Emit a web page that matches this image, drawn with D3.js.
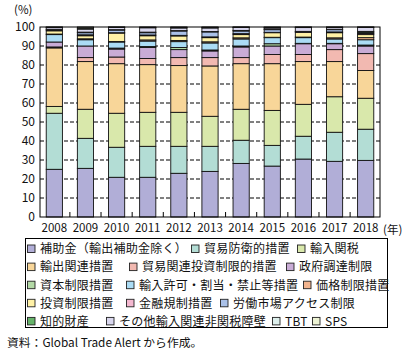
<!DOCTYPE html>
<html>
<head>
<meta charset="utf-8">
<script src="https://cdn.jsdelivr.net/npm/d3@7"></script>
<style>
  body { margin: 0; background: #fff; }
  svg { display: block; font-family: "Noto Sans CJK JP", "Noto Sans", sans-serif; }
</style>
</head>
<body>
<div class="chart"></div>
<script>
const WIDTH = 405;
const HEIGHT = 352;

const PLOT = { left: 40, right: 380, top: 27, bottom: 217 };

var years = ['2008', '2009', '2010', '2011', '2012', '2013', '2014', '2015', '2016', '2017', '2018'];
var yTicks = [0, 10, 20, 30, 40, 50, 60, 70, 80, 90, 100];

var categories = [
    '補助金（輸出補助金除く）', '貿易防衛的措置', '輸入関税',
    '輸出関連措置', '貿易関連投資制限的措置', '政府調達制限',
    '資本制限措置', '輸入許可・割当・禁止等措置', '価格制限措置',
    '投資制限措置', '金融規制措置', '労働市場アクセス制限',
    '知的財産', 'その他輸入関連非関税障壁', 'TBT', 'SPS'
];

// share of measures, % (bottom to top)
var subsidies      = [25.1, 25.6, 20.9, 20.9, 23.0, 24.0, 28.2, 26.8, 30.5, 29.3, 29.8];
var tradeDefence   = [29.5, 15.8, 15.8, 16.3, 14.2, 13.2, 12.2, 10.9, 12.0, 15.3, 16.4];
var importTariff   = [3.6, 15.3, 17.9, 17.9, 17.9, 15.8, 16.3, 18.4, 16.8, 18.7, 16.3];
var exportRelated  = [30.8, 25.1, 26.1, 25.1, 24.6, 26.5, 24.0, 24.6, 22.5, 18.5, 14.6];
var tradeInvest    = [0.5, 2.1, 3.5, 3.2, 4.2, 4.4, 3.2, 4.8, 3.7, 6.3, 8.9];
var procurement    = [2.6, 6.1, 4.2, 5.8, 4.2, 3.5, 5.6, 4.5, 5.7, 3.1, 4.0];
var capital        = [0.0, 0.0, 0.5, 0.5, 1.1, 0.5, 0.5, 1.2, 0.2, 0.2, 0.5];
var licensing      = [3.9, 3.3, 3.2, 2.9, 3.1, 3.7, 3.7, 3.2, 3.0, 2.3, 2.8];
var priceControl   = [0.3, 0.5, 0.3, 0.6, 0.6, 0.6, 0.6, 0.2, 0.3, 0.6, 1.1];
var investment     = [1.7, 1.6, 4.4, 2.2, 2.4, 2.2, 1.7, 2.4, 2.5, 2.7, 1.6];
var finance        = [0.5, 0.5, 0.2, 0.4, 0.3, 0.4, 0.5, 0.2, 0.3, 0.4, 0.6];
var labour         = [0.0, 1.1, 1.4, 1.2, 2.3, 2.6, 1.4, 1.4, 0.0, 1.2, 0.6];
var ip             = [0.3, 0.3, 0.2, 0.3, 0.2, 0.2, 0.3, 0.2, 0.2, 0.2, 0.5];
var otherNtb       = [0.9, 1.6, 1.2, 2.3, 1.4, 1.9, 1.6, 0.7, 2.0, 0.9, 2.1];
var tbt            = [0.2, 0.5, 0.1, 0.2, 0.3, 0.3, 0.1, 0.3, 0.2, 0.2, 0.1];
var sps            = [0.1, 0.6, 0.1, 0.2, 0.2, 0.2, 0.1, 0.2, 0.1, 0.1, 0.1];

var series = [subsidies, tradeDefence, importTariff, exportRelated, tradeInvest, procurement,
    capital, licensing, priceControl, investment, finance, labour, ip, otherNtb, tbt, sps];

var colors = ['#b1aed7', '#b3ddd5', '#d9e8ab', '#f8d699', '#f2b9b1', '#c9acd6',
    '#b3d9a6', '#abdcf5', '#f2b48e', '#fff1a6', '#f4b8d0', '#aac1e8',
    '#66b36a', '#d9d7ee', '#ddefec', '#edf3d4'];

// legend layout: [row, swatch x]
var legendPos = [
    [0, 27], [0, 191], [0, 297],
    [1, 27], [1, 129], [1, 286],
    [2, 27], [2, 126], [2, 303],
    [3, 27], [3, 126], [3, 220],
    [4, 27], [4, 106], [4, 272], [4, 312]
];

var translate = function (x, y) {
    return "translate(" + x + "," + y + ")";
};

var generateChart = function () {
    var svg = d3.select('.chart').append('svg')
        .attr('width', WIDTH)
        .attr('height', HEIGHT);

    var xScale = d3.scaleBand()
        .domain(years)
        .range([PLOT.left, PLOT.right])
        .paddingInner(0.48)
        .paddingOuter(0.2);

    var yScale = d3.scaleLinear()
        .domain([0, 100])
        .range([PLOT.bottom, PLOT.top]);

    var table = years.map(function (y, i) {
        var row = { year: y };
        series.forEach(function (s, k) { row['s' + k] = s[i]; });
        return row;
    });

    var stack = d3.stack().keys(series.map(function (s, k) { return 's' + k; }));
    var stacked = stack(table);

    // grid lines
    svg.append('g')
        .selectAll('line')
        .data(yTicks.filter(function (t) { return t > 0 && t < 100; }))
        .enter().append('line')
        .attr('x1', PLOT.left).attr('x2', PLOT.right)
        .attr('y1', function (t) { return yScale(t); })
        .attr('y2', function (t) { return yScale(t); })
        .attr('stroke', '#000')
        .attr('stroke-width', 1)
        .attr('stroke-dasharray', '4,2');

    // bars
    svg.append('g')
        .selectAll('g')
        .data(stacked)
        .enter().append('g')
        .attr('fill', function (d, k) { return colors[k]; })
        .selectAll('rect')
        .data(function (d) { return d; })
        .enter().append('rect')
        .attr('x', function (d) { return xScale(d.data.year); })
        .attr('y', function (d) { return yScale(d[1]); })
        .attr('width', xScale.bandwidth())
        .attr('height', function (d) { return Math.max(0, yScale(d[0]) - yScale(d[1])); })
        .attr('stroke', '#111')
        .attr('stroke-width', 0.9);

    // frame
    svg.append('rect')
        .attr('x', PLOT.left).attr('y', PLOT.top)
        .attr('width', PLOT.right - PLOT.left)
        .attr('height', PLOT.bottom - PLOT.top)
        .attr('fill', 'none')
        .attr('stroke', '#000')
        .attr('stroke-width', 1);

    // y axis
    var yAxis = d3.axisLeft(yScale).tickValues(yTicks).tickSize(0).tickPadding(5);
    var gy = svg.append('g')
        .attr('transform', translate(PLOT.left, 0))
        .call(yAxis);
    gy.select('.domain').remove();
    gy.selectAll('text')
        .attr('font-size', 12)
        .attr('fill', '#111')
        .style('font-family', '"Noto Sans CJK JP", sans-serif');

    // x axis
    var xAxis = d3.axisBottom(xScale).tickSize(0).tickPadding(7);
    var gx = svg.append('g')
        .attr('transform', translate(0, PLOT.bottom))
        .call(xAxis);
    gx.select('.domain').remove();
    gx.selectAll('text')
        .attr('font-size', 11.5)
        .attr('fill', '#111')
        .style('font-family', '"Noto Sans CJK JP", sans-serif');

    // x ticks between bands
    var step = xScale.step();
    svg.append('g')
        .selectAll('line')
        .data(years.slice(1))
        .enter().append('line')
        .attr('x1', function (y) { return xScale(y) - step * xScale.paddingInner() / 2; })
        .attr('x2', function (y) { return xScale(y) - step * xScale.paddingInner() / 2; })
        .attr('y1', PLOT.bottom)
        .attr('y2', PLOT.bottom - 5)
        .attr('stroke', '#000');

    svg.append('text')
        .attr('x', 14).attr('y', 14)
        .attr('font-size', 11.5)
        .attr('fill', '#111')
        .text('(%)');

    svg.append('text')
        .attr('x', 383).attr('y', 234)
        .attr('font-size', 11.5)
        .attr('fill', '#111')
        .text('(年)');

    // legend
    svg.append('rect')
        .attr('x', 25.5).attr('y', 238.5)
        .attr('width', 362).attr('height', 89)
        .attr('fill', 'none')
        .attr('stroke', '#000');

    var items = svg.append('g')
        .selectAll('g')
        .data(categories)
        .enter().append('g')
        .attr('transform', function (d, i) {
            return translate(legendPos[i][1], 249 + legendPos[i][0] * 18.1);
        });

    items.append('rect')
        .attr('x', 0.5).attr('y', -4)
        .attr('width', 7.5).attr('height', 7.5)
        .attr('fill', function (d, i) { return colors[i]; })
        .attr('stroke', '#222')
        .attr('stroke-width', 0.9);

    items.append('text')
        .attr('x', 13).attr('y', 4.3)
        .attr('font-size', 12)
        .attr('letter-spacing', 0.25)
        .attr('fill', '#111')
        .text(function (d) { return d; });

    svg.append('text')
        .attr('x', 7).attr('y', 347)
        .attr('font-size', 11.8)
        .attr('fill', '#111')
        .text('資料：Global Trade Alert から作成。');
};

generateChart();
</script>
</body>
</html>
